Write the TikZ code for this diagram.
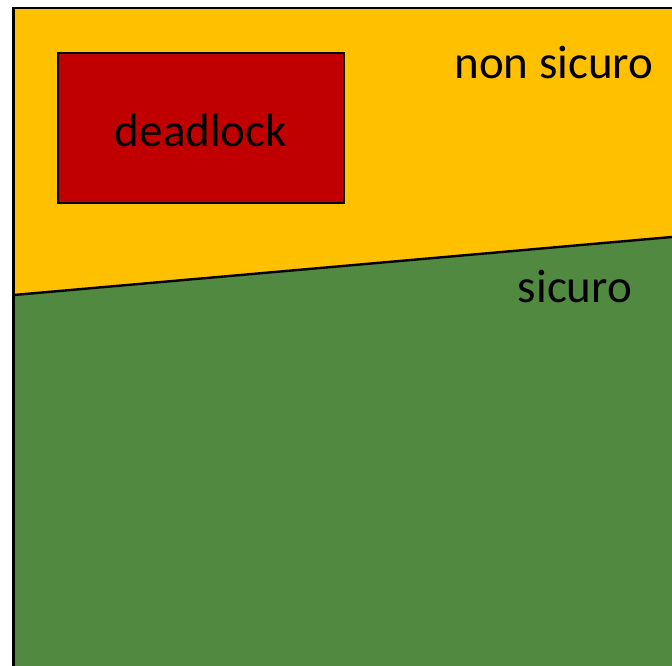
\documentclass[tikz,border=0pt]{standalone}
\usepackage{fontspec}
\setmainfont{Carlito}
\definecolor{unsafe}{HTML}{FFC000}
\definecolor{dead}{HTML}{C00000}
\definecolor{safe}{HTML}{50893F}
\begin{document}
\begin{tikzpicture}[x=1pt,y=-1pt,
  lbl/.style={font=\fontsize{47}{50}\selectfont, anchor=base, inner sep=0pt},
  edge/.style={draw=black, line width=2.4pt}]
\useasboundingbox (0,0) rectangle (672,665);
\clip (0,0) rectangle (672,665);
% regions
\fill[unsafe] (13.5,8) -- (700,8) -- (700,234.5) -- (13.5,295) -- cycle;
\fill[safe] (13.5,295) -- (700,234.5) -- (700,700) -- (13.5,700) -- cycle;
\draw[edge] (13.5,295) -- (700,234.5);
\draw[edge] (13.5,700) -- (13.5,8) -- (700,8);
% deadlock box
\node[draw=black, line width=2pt, fill=dead, minimum width=286pt, minimum height=150pt, inner sep=0pt, outer sep=0pt, anchor=north west] (box) at (58,53) {};
\node[lbl] (dl) at (201,146) {deadlock};
\node[lbl] (ns) at (554,78) {non sicuro};
\node[lbl] (s) at (575,302) {sicuro};
\end{tikzpicture}
\end{document}
